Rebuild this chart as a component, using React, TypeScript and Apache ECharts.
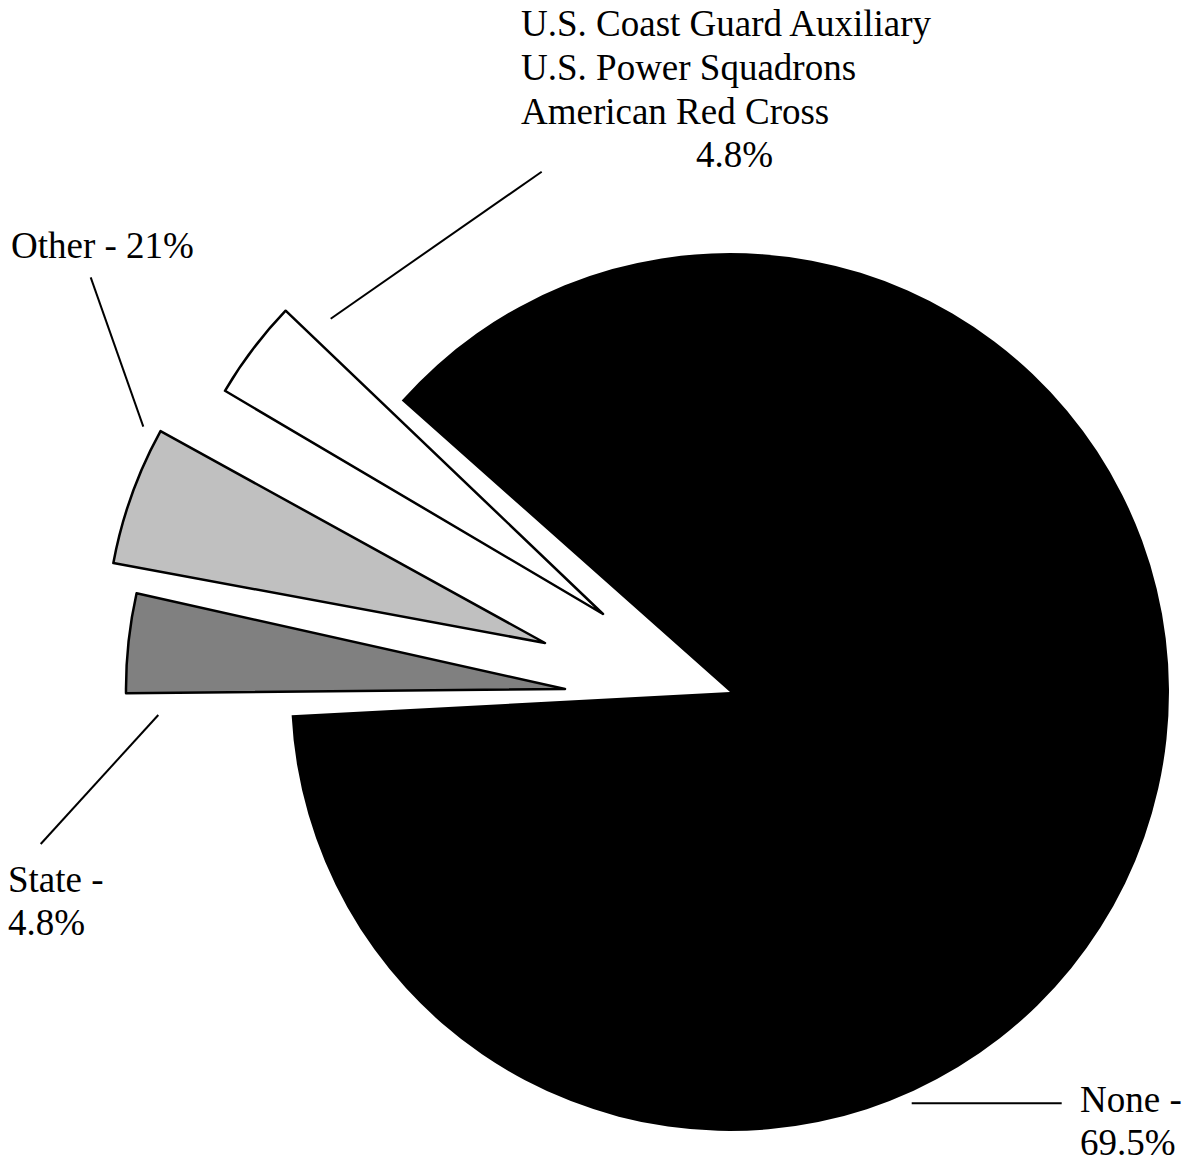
import React, { useEffect, useRef } from "react";
import * as echarts from "echarts";

const categories = ["None", "State", "Other", "U.S. Coast Guard Auxiliary / U.S. Power Squadrons / American Red Cross"];
const sliceShares = [87.6, 3.65, 5.1, 3.65];
// Percent texts printed beside the slices
const labelPercents = ["69.5%", "4.8%", "21%", "4.8%"];
const uscgLines = ["U.S. Coast Guard Auxiliary", "U.S. Power Squadrons", "American Red Cross"];
const sliceColors = ["#000000", "#808080", "#c0c0c0", "#ffffff"];

// Exploded layout: each slice drawn from its own centre
const sliceCenters: number[][] = [[730, 692], [565, 689], [545, 643], [603, 614]];
const sliceStartAngles = [138.4, 135.9, 138.0, 136.3];
const RADIUS = 439;

const FONT = "Liberation Serif";
const FS = 37;

function txt(text: string, x: number, y: number) {
  return {
    type: "text",
    x,
    y,
    silent: true,
    style: {
      text,
      fill: "#000",
      fontFamily: FONT,
      fontSize: FS,
      align: "left",
      verticalAlign: "middle",
    },
  };
}

function ln(x1: number, y1: number, x2: number, y2: number) {
  return {
    type: "line",
    silent: true,
    shape: { x1, y1, x2, y2 },
    style: { stroke: "#000", lineWidth: 2 },
  };
}

export default function App() {
  const ref = useRef<HTMLDivElement>(null);
  useEffect(() => {
    if (!ref.current) return;
    const chart = echarts.init(ref.current, undefined, { renderer: "svg" });
    const series = categories.map((name, k) => ({
      type: "pie",
      name,
      center: sliceCenters[k],
      radius: RADIUS,
      startAngle: sliceStartAngles[k],
      clockwise: true,
      silent: true,
      avoidLabelOverlap: false,
      label: { show: false },
      labelLine: { show: false },
      emphasis: { disabled: true },
      data: categories.map((c, i) => ({
        name: c,
        value: sliceShares[i],
        itemStyle:
          i === k
            ? {
                color: sliceColors[i],
                borderColor: "#000",
                borderWidth: k === 0 ? 0 : 2.5,
                borderJoin: "round",
              }
            : { color: "rgba(0,0,0,0)", borderWidth: 0 },
      })),
    }));
    const graphic = [
      txt(uscgLines[0], 521, 23.5),
      txt(uscgLines[1], 521, 67.5),
      txt(uscgLines[2], 521, 111),
      txt(labelPercents[3], 696, 154.5),
      txt("Other - " + labelPercents[2], 11, 245.5),
      txt("State -", 8, 879),
      txt(labelPercents[1], 8, 922.5),
      txt("None -", 1080, 1099),
      txt(labelPercents[0], 1080, 1142.5),
      ln(541.7, 171.7, 330.7, 318.7),
      ln(90.7, 277.3, 143.3, 426.7),
      ln(158.3, 715, 40.7, 844),
      ln(911.7, 1103.3, 1061.7, 1103.3),
    ];
    chart.setOption({
      animation: false,
      backgroundColor: "#ffffff",
      series,
      graphic,
    } as any);
    return () => chart.dispose();
  }, []);
  return (
    <div
      ref={ref}
      style={{ position: "absolute", left: 0, top: 0, width: 1187, height: 1163, background: "#fff" }}
    />
  );
}
